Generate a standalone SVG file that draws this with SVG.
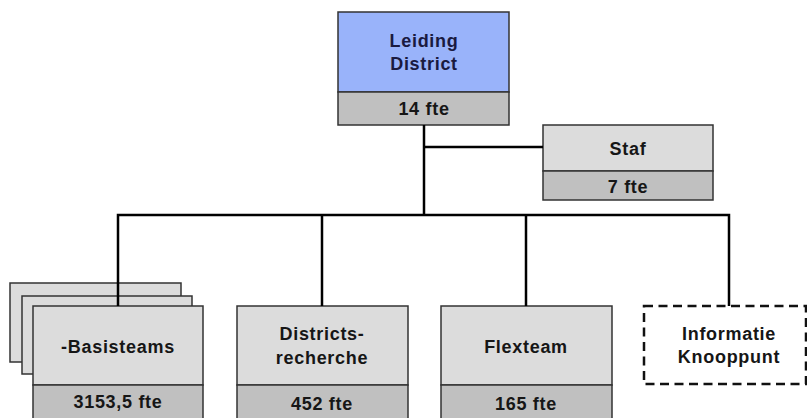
<svg xmlns="http://www.w3.org/2000/svg" width="807" height="418" viewBox="0 0 807 418">
<style>
.t{font-family:"Liberation Sans",Arial,sans-serif;font-size:18px;font-weight:bold;letter-spacing:0.7px;text-anchor:middle;fill:#161616}
.top{fill:#dcdcdc;stroke:#333;stroke-width:1.5}
.bot{fill:#c0c0c0;stroke:#333;stroke-width:1.5}
.blue{fill:#99b3fa;stroke:#333;stroke-width:1.5}
.c{stroke:#000;stroke-width:2.5;fill:none}
</style>
<rect width="807" height="418" fill="#fff"/>
<g id="leiding">
<rect class="blue" x="338" y="12" width="171" height="80"/>
<rect class="bot" x="338" y="92" width="171" height="33"/>
<text class="t" x="424" y="47" style="fill:#1a1a40">Leiding</text>
<text class="t" x="424" y="70" style="fill:#1a1a40">District</text>
<text class="t" x="424" y="115">14 fte</text>
</g>
<g id="staf">
<rect class="top" x="543" y="125" width="170" height="46"/>
<rect class="bot" x="543" y="171" width="170" height="29"/>
<text class="t" x="628" y="155">Staf</text>
<text class="t" x="628" y="193">7 fte</text>
</g>
<g id="basisteams">
<rect class="top" x="10" y="283" width="171" height="79"/>
<rect class="top" x="22" y="296" width="170" height="78"/>
<rect class="top" x="33" y="306" width="170" height="79"/>
<rect class="bot" x="33" y="385" width="170" height="34"/>
<text class="t" x="118" y="353">-Basisteams</text>
<text class="t" x="118" y="408">3153,5 fte</text>
</g>
<g id="districtsrecherche">
<rect class="top" x="237" y="306" width="171" height="79"/>
<rect class="bot" x="237" y="385" width="171" height="34"/>
<text class="t" x="322" y="340">Districts-</text>
<text class="t" x="322" y="364">recherche</text>
<text class="t" x="322" y="410">452 fte</text>
</g>
<g id="flexteam">
<rect class="top" x="441" y="306" width="171" height="79"/>
<rect class="bot" x="441" y="385" width="171" height="34"/>
<text class="t" x="526" y="353">Flexteam</text>
<text class="t" x="526" y="410">165 fte</text>
</g>
<g id="informatie">
<rect x="644" y="306" width="162" height="78" fill="#fff" stroke="#111" stroke-width="2.5" stroke-dasharray="9,5.5"/>
<text class="t" x="729" y="340">Informatie</text>
<text class="t" x="729" y="363">Knooppunt</text>
</g>
<g id="connectors">
<line class="c" x1="424" y1="125" x2="424" y2="215"/>
<line class="c" x1="424" y1="147" x2="543" y2="147"/>
<polyline class="c" points="118,306 118,215 729,215 729,306"/>
<line class="c" x1="322" y1="215" x2="322" y2="306"/>
<line class="c" x1="526" y1="215" x2="526" y2="306"/>
</g>
</svg>
